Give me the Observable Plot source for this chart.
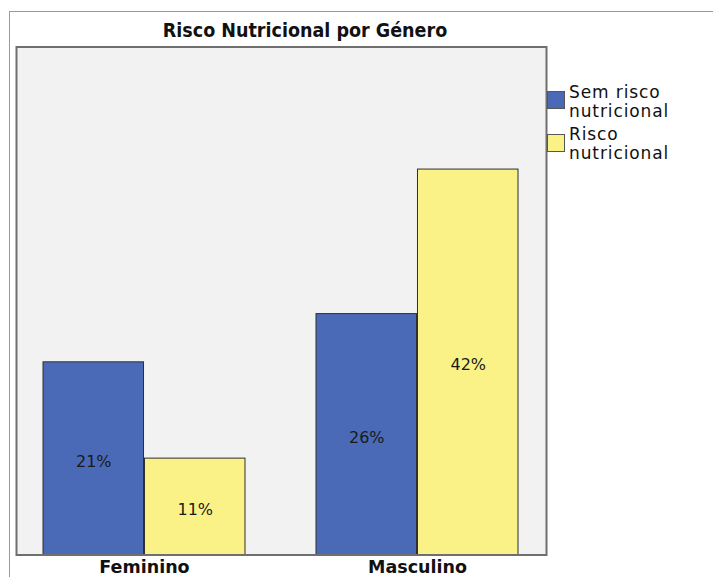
<!DOCTYPE html>
<html>
<head>
<meta charset="utf-8">
<script src="https://cdn.jsdelivr.net/npm/d3@7"></script>
<script src="https://cdn.jsdelivr.net/npm/@observablehq/plot@0.6"></script>
<style>
  html, body { margin: 0; padding: 0; background: #fff; }
  #wrap { position: relative; width: 713px; height: 577px; overflow: hidden; font-family: "DejaVu Sans", sans-serif; }
  #outer { position: absolute; left: 9px; top: 11px; width: 800px; height: 700px; border-left: 1px solid #9a9a9a; border-top: 1px solid #9a9a9a; }
  #title { position: absolute; left: 0; width: 610px; top: 19px; text-align: center; font-family: "DejaVu Sans Condensed", "DejaVu Sans", sans-serif; font-stretch: condensed; font-weight: bold; font-size: 19.5px; color: #111; white-space: nowrap; }
  #chart { position: absolute; left: 0; top: 0; }
  .leg { position: absolute; left: 547px; }
  .sw { position: absolute; left: 0; width: 16px; height: 16px; border: 1px solid #555; }
  .lt { position: absolute; left: 22px; font-size: 17px; letter-spacing: 0.9px; line-height: 19.8px; height: 19.8px; color: #111; white-space: nowrap; }
</style>
</head>
<body>
<div id="wrap">
  <div id="outer"></div>
  <div id="title">Risco Nutricional por Género</div>
  <div id="chart"></div>
  <div id="legend"></div>
</div>
<script>
const genders = ["Feminino", "Masculino"];
const seriesNames = ["Sem risco nutricional", "Risco nutricional"];
const legendLines = [["Sem risco", "nutricional"], ["Risco", "nutricional"]];
const semRisco = [21.05, 26.32];   // % of total
const risco = [10.53, 42.11];      // % of total
const seriesColors = ["#4a6ab7", "#fbf287"];

const semData = genders.map((g, i) => ({gender: g, value: semRisco[i], label: Math.round(semRisco[i]) + "%"}));
const riscoData = genders.map((g, i) => ({gender: g, value: risco[i], label: Math.round(risco[i]) + "%"}));

const W = 713, H = 577;
const mL = 16, mR = 167, mT = 46.5, mB = 22.5;
const pInner = 0.259, pOuter = 0.097;
const step = (W - mL - mR) / (genders.length - pInner + 2 * pOuter);
const bw = step * (1 - pInner);

const chart = Plot.plot({
  width: W,
  height: H,
  marginLeft: mL,
  marginRight: mR,
  marginTop: mT,
  marginBottom: mB,
  style: {background: "transparent", fontFamily: "DejaVu Sans, sans-serif", fontSize: "17.5px", fontWeight: "bold", color: "#111"},
  x: {domain: genders, paddingInner: pInner, paddingOuter: pOuter, tickSize: 0, tickPadding: 6, label: null},
  y: {domain: [0, 55.5], axis: null},
  marks: [
    Plot.frame({fill: "#f2f2f2", stroke: null}),
    Plot.barY(semData, {x: "gender", y: "value", fill: seriesColors[0], stroke: "#2e2e2e", strokeWidth: 1, insetRight: bw / 2}),
    Plot.barY(riscoData, {x: "gender", y: "value", fill: seriesColors[1], stroke: "#2e2e2e", strokeWidth: 1, insetLeft: bw / 2}),
    Plot.text(semData, {x: "gender", y: d => d.value / 2, text: "label", dx: -bw / 4, dy: 3, fontSize: 16, fontWeight: "normal", fill: "#1a1a1a"}),
    Plot.text(riscoData, {x: "gender", y: d => d.value / 2, text: "label", dx: bw / 4, dy: 3, fontSize: 16, fontWeight: "normal", fill: "#1a1a1a"}),
    Plot.frame({stroke: "#6f6f6f", strokeWidth: 2})
  ]
});
document.getElementById("chart").appendChild(chart);

const legend = document.getElementById("legend");
const legTops = [84, 126];
seriesNames.forEach((name, i) => {
  const item = document.createElement("div");
  item.className = "leg";
  item.style.top = legTops[i] + "px";
  item.title = name;
  const sw = document.createElement("div");
  sw.className = "sw";
  sw.style.background = seriesColors[i];
  sw.style.top = (i === 0 ? 7 : 8) + "px";
  item.appendChild(sw);
  legendLines[i].forEach((line, j) => {
    const t = document.createElement("div");
    t.className = "lt";
    t.style.top = (j * 19.8 - 1.5) + "px";
    t.textContent = line;
    item.appendChild(t);
  });
  legend.appendChild(item);
});
</script>
</body>
</html>
